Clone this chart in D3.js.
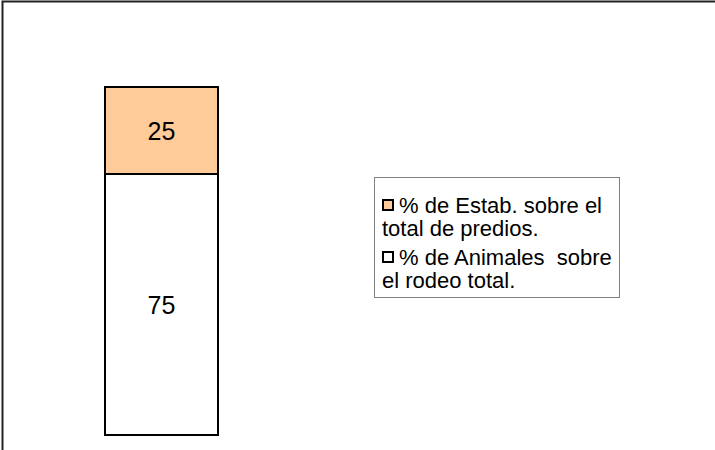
<!DOCTYPE html>
<html>
<head>
<meta charset="utf-8">
<script src="https://cdn.jsdelivr.net/npm/d3@7"></script>
<style>
  body { margin: 0; background: #fff; }
  svg { display: block; }
  text { white-space: pre; }
</style>
</head>
<body>
<div id="chart"></div>
<script>
// datos
var categorias = ["Total"];
var series = ["% de Estab. sobre el total de predios.", "% de Animales  sobre el rodeo total."];
var valores = [25, 75];          // parte superior, parte inferior
var leyenda = [
  ["% de Estab. sobre el", "total de predios."],
  ["% de Animales  sobre", "el rodeo total."]
];
var colores = ["#FFCC99", "#FFFFFF"];

var width = 715, height = 450;

var svg = d3.select("#chart").append("svg")
  .attr("width", width)
  .attr("height", height);

// borde del grafico
svg.append("rect")
  .attr("x", 2.5).attr("y", 1.5)
  .attr("width", 800).attr("height", 600)
  .attr("fill", "#fff")
  .attr("stroke", "#222")
  .attr("stroke-width", 2);

// escalas
var x = d3.scaleBand().domain(categorias).range([105, 218]).padding(0);
var y = d3.scaleLinear().domain([0, 100]).range([435, 87]);

// apilar: 75 abajo, 25 arriba
var pila = [];
var acum = 0;
[1, 0].forEach(function (i) {
  pila.push({ i: i, v: valores[i], y0: acum, y1: acum + valores[i] });
  acum += valores[i];
});

var g = svg.append("g");
g.selectAll("rect.seg")
  .data(pila)
  .enter()
  .append("rect")
  .attr("class", "seg")
  .attr("x", x("Total"))
  .attr("y", function (d) { return y(d.y1); })
  .attr("width", x.bandwidth())
  .attr("height", function (d) { return y(d.y0) - y(d.y1); })
  .attr("fill", function (d) { return colores[d.i]; })
  .attr("stroke", "#000")
  .attr("stroke-width", 2);

// etiquetas de valor
g.selectAll("text.val")
  .data(pila)
  .enter()
  .append("text")
  .attr("class", "val")
  .attr("x", x("Total") + x.bandwidth() / 2)
  .attr("y", function (d) { return (y(d.y0) + y(d.y1)) / 2; })
  .attr("dy", "0.36em")
  .attr("text-anchor", "middle")
  .attr("font-family", "Liberation Sans, Arial, sans-serif")
  .attr("font-size", "25px")
  .attr("fill", "#000")
  .text(function (d) { return d.v; });

// leyenda
var lg = svg.append("g");
lg.append("rect")
  .attr("x", 374.5).attr("y", 177.5)
  .attr("width", 245).attr("height", 120)
  .attr("fill", "#fff")
  .attr("stroke", "#808080")
  .attr("stroke-width", 1);

var item = lg.selectAll("g.item")
  .data(leyenda)
  .enter()
  .append("g")
  .attr("class", "item")
  .attr("transform", function (d, i) { return "translate(382," + (199 + i * 52) + ")"; });

item.append("rect")
  .attr("x", 1).attr("y", 1)
  .attr("width", 10).attr("height", 10)
  .attr("fill", function (d, i) { return colores[i]; })
  .attr("stroke", "#000")
  .attr("stroke-width", 2);

item.append("text")
  .attr("x", 17)
  .attr("y", 14)
  .attr("font-family", "Liberation Sans, Arial, sans-serif")
  .attr("font-size", "22px")
  .attr("fill", "#000")
  .selectAll("tspan")
  .data(function (d) { return d; })
  .enter()
  .append("tspan")
  .attr("x", function (d, j) { return j === 0 ? 17 : 0; })
  .attr("dy", function (d, j) { return j === 0 ? 0 : 23; })
  .text(function (d) { return d; });
</script>
</body>
</html>
